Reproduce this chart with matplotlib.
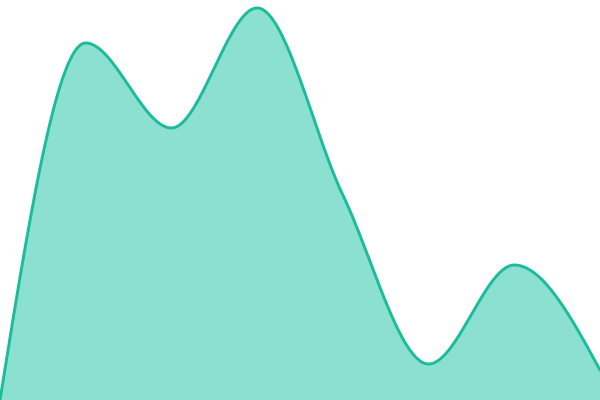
import matplotlib
matplotlib.use('Agg')
import matplotlib.pyplot as plt
import numpy as np

positions = [0, 1, 2, 3, 4, 5, 6, 7]
values = [0, 357, 272, 392, 205, 36, 135, 30]

line_color = '#1abc9c'
fill_color = '#8be0cf'


def monotone_curve(x, y, n=60):
    # monotone cubic smoothing, same idea as d3.curveMonotoneX
    x = np.asarray(x, float)
    y = np.asarray(y, float)
    h = np.diff(x)
    s = np.diff(y) / h
    t = np.zeros(len(x))
    for i in range(1, len(x) - 1):
        p = (s[i - 1] * h[i] + s[i] * h[i - 1]) / (h[i - 1] + h[i])
        t[i] = (np.sign(s[i - 1]) + np.sign(s[i])) * min(abs(s[i - 1]), abs(s[i]), 0.5 * abs(p))
    t[0] = (3 * s[0] - t[1]) / 2
    t[-1] = (3 * s[-1] - t[-2]) / 2
    xs, ys = [], []
    for i in range(len(x) - 1):
        u = np.linspace(0, 1, n, endpoint=(i == len(x) - 2))
        h00 = 2 * u**3 - 3 * u**2 + 1
        h10 = u**3 - 2 * u**2 + u
        h01 = -2 * u**3 + 3 * u**2
        h11 = u**3 - u**2
        xs.append(x[i] + u * h[i])
        ys.append(h00 * y[i] + h10 * h[i] * t[i] + h01 * y[i + 1] + h11 * h[i] * t[i + 1])
    return np.concatenate(xs), np.concatenate(ys)


cx, cy = monotone_curve(positions, values)

fig = plt.figure(figsize=(6, 4), dpi=100)
ax = fig.add_axes([0, 0, 1, 1])
ax.fill_between(cx, cy, 0, color=fill_color, linewidth=0)
ax.plot(cx, cy, color=line_color, linewidth=2.1, solid_capstyle='round')
ax.set_xlim(0, 7)
ax.set_ylim(0, 400)
ax.axis('off')
fig.savefig('out.png', dpi=100)
